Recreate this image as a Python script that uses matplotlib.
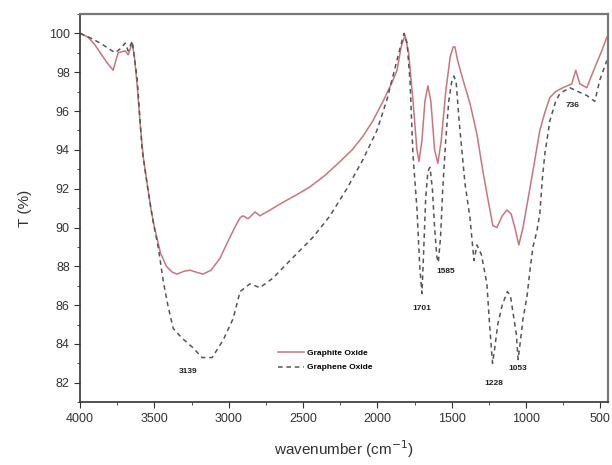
import matplotlib
matplotlib.use("Agg")
import matplotlib.pyplot as plt
from matplotlib.ticker import MultipleLocator

plt.rcParams["font.family"] = ["Liberation Sans", "DejaVu Sans"]

# FTIR spectra (wavenumber cm-1, transmittance %)
go_wn = [4000, 3946, 3900, 3865, 3820, 3778, 3760, 3744, 3697, 3677, 3650, 3635,
         3615, 3595, 3575, 3550, 3525, 3500, 3460, 3420, 3380, 3348, 3300, 3260,
         3220, 3173, 3120, 3060, 3011, 2960, 2924, 2904, 2870, 2823, 2790, 2769,
         2722, 2635, 2540, 2453, 2350, 2251, 2170, 2097, 2030, 1962, 1900, 1868,
         1840, 1814, 1790, 1760, 1734, 1720, 1700, 1680, 1660, 1640, 1615, 1593,
         1570, 1540, 1510, 1490, 1478, 1460, 1420, 1377, 1330, 1290, 1250, 1223,
         1196, 1160, 1128, 1100, 1075, 1048, 1020, 974, 940, 907, 870, 839, 800,
         752, 692, 665, 638, 591, 560, 523, 490, 456]
go_t = [100.0, 99.8, 99.4, 99.0, 98.5, 98.1, 98.6, 99.0, 99.1, 98.9, 99.5, 98.8,
        97.2, 95.2, 93.6, 92.3, 91.0, 90.0, 88.7, 88.0, 87.7, 87.6, 87.75, 87.8,
        87.7, 87.6, 87.8, 88.4, 89.2, 90.0, 90.5, 90.6, 90.45, 90.8, 90.6, 90.7,
        90.9, 91.3, 91.7, 92.1, 92.7, 93.4, 94.0, 94.7, 95.5, 96.5, 97.5, 98.1,
        99.3, 99.9, 99.0, 96.5, 94.0, 93.4, 94.5, 96.5, 97.3, 96.5, 94.0, 93.3,
        94.5, 97.0, 98.8, 99.3, 99.3, 98.6, 97.5, 96.4, 94.8, 92.9, 91.2, 90.1,
        90.0, 90.6, 90.9, 90.7, 90.0, 89.1, 90.0, 92.0, 93.5, 95.0, 96.0, 96.7, 97.0,
        97.2, 97.4, 98.1, 97.4, 97.2, 97.8, 98.5, 99.1, 99.8]

gno_wn = [4000, 3913, 3845, 3765, 3731, 3697, 3677, 3650, 3617, 3583, 3545, 3509,
          3475, 3440, 3410, 3374, 3314, 3240, 3180, 3112, 3038, 2971, 2924, 2857,
          2790, 2702, 2588, 2433, 2319, 2205, 2097, 2003, 1935, 1882, 1835, 1820,
          1800, 1780, 1761, 1734, 1715, 1700, 1690, 1675, 1660, 1646, 1630, 1615,
          1600, 1590, 1575, 1560, 1540, 1520, 1500, 1485, 1470, 1450, 1411, 1377,
          1350, 1330, 1300, 1263, 1245, 1225, 1210, 1190, 1160, 1125, 1105, 1085,
          1065, 1053, 1040, 1020, 994, 970, 953, 927, 907, 890, 873, 839, 800, 772,
          705, 650, 591, 537, 503, 456]
gno_t = [100.0, 99.7, 99.4, 99.0, 99.2, 99.5, 99.1, 99.6, 97.7, 94.0, 92.0, 90.3,
         89.0, 87.2, 86.0, 84.8, 84.3, 83.8, 83.3, 83.3, 84.2, 85.3, 86.7, 87.1,
         86.9, 87.4, 88.3, 89.5, 90.6, 92.0, 93.5, 95.0, 96.6, 98.2, 99.6, 100.0,
         99.5, 97.5, 93.8, 91.0, 88.0, 86.6, 88.5, 91.5, 92.9, 93.1, 92.0, 90.0,
         88.5, 88.2, 89.5, 92.0, 94.5, 96.5, 97.5, 97.8, 97.5, 95.5, 92.3, 90.5,
         88.3, 89.1, 88.6, 87.1, 85.0, 83.0, 83.8, 85.0, 86.0, 86.7, 86.5, 85.5,
         84.5, 83.2, 84.0, 85.3, 86.4, 88.0, 89.0, 89.8, 90.7, 92.5, 93.8, 95.5, 96.5,
         96.9, 97.2, 97.0, 96.8, 96.5, 97.6, 98.6]

peak_labels = ["3139", "1701", "1585", "1228", "1053", "736"]
peak_label_pos = [(3274, 82.6), (1700, 85.85), (1539, 87.75), (1216, 81.95),
                  (1055, 82.75), (684, 96.3)]

fig = plt.figure(figsize=(6.12, 4.65), dpi=100)
ax = fig.add_axes([0.131, 0.135, 0.862, 0.835])

ax.plot(go_wn, go_t, color="#c8767e", lw=1.1, label="Graphite Oxide")
ax.plot(gno_wn, gno_t, color="#555555", lw=1.1, ls=(0, (3, 2.5)),
        label="Graphene Oxide")

for txt, (xw, yt) in zip(peak_labels, peak_label_pos):
    ax.text(xw, yt, txt, fontsize=6, weight="bold", ha="center", va="center",
            color="#222222")

ax.set_xlim(4000, 450)
ax.set_ylim(81, 101)
ax.xaxis.set_major_locator(MultipleLocator(500))
ax.xaxis.set_minor_locator(MultipleLocator(250))
ax.yaxis.set_minor_locator(MultipleLocator(1))
ax.set_yticks(range(82, 101, 2))
ax.tick_params(which="major", direction="out", length=4, labelsize=9,
               colors="#333333")
ax.tick_params(which="minor", direction="out", length=2.5, colors="#333333")

for side in ["left", "bottom"]:
    ax.spines[side].set_color("#333333")
    ax.spines[side].set_linewidth(1.2)
for side in ["top", "right"]:
    ax.spines[side].set_color("#777777")
    ax.spines[side].set_linewidth(1.6)

ax.set_xlabel("wavenumber (cm$^{-1}$)", fontsize=11, color="#333333", labelpad=10)
ax.set_ylabel("T (%)", fontsize=11, color="#333333", labelpad=12)

leg = ax.legend(loc="lower left", bbox_to_anchor=(0.36, 0.06), frameon=False,
                prop={"size": 6, "weight": "bold"}, handlelength=3.2,
                labelspacing=0.8, handletextpad=0.3)

fig.savefig("out.png", dpi=100)
